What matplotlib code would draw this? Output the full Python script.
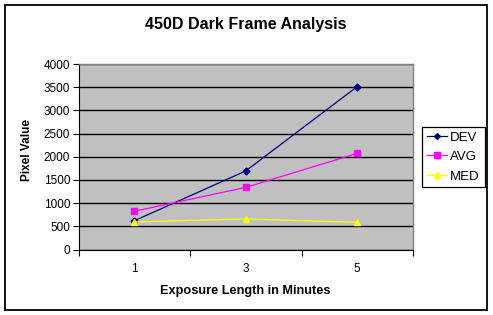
import numpy as np
import matplotlib.pyplot as plt
from matplotlib.patches import Rectangle

plt.rcParams['font.family'] = ['Liberation Sans', 'DejaVu Sans']

# exposure categories and pixel values
minutes = ["1", "3", "5"]
dev = [620, 1695, 3515]
avg = [825, 1340, 2075]
med = [595, 660, 585]
yticks = [0, 500, 1000, 1500, 2000, 2500, 3000, 3500, 4000]

W, H = 493, 315
fig = plt.figure(figsize=(W/100, H/100), dpi=100)
fig.patch.set_facecolor("white")
# outer chart border
fig.patches.append(Rectangle((4.5/W, 1-310/H), 482.5/W, 305.5/H, transform=fig.transFigure,
                             fill=False, edgecolor="black", linewidth=1.3))

ax = fig.add_axes([78.5/W, 1-249.5/H, 334.5/W, 185.4/H])
ax.set_facecolor("#C0C0C0")

x = np.arange(len(minutes))
ax.plot(x, dev, color="#000080", marker="D", markersize=3.5, linewidth=0.9, label="DEV", zorder=3)
ax.plot(x, avg, color="#FF00FF", marker="s", markersize=4.5, linewidth=0.9, label="AVG", zorder=3)
ax.plot(x, med, color="#FFFF00", marker="^", markersize=5, linewidth=0.9, label="MED", zorder=3)

ax.set_ylim(0, 4000)
ax.set_yticks(yticks)
ax.set_yticklabels([str(v) for v in yticks], fontsize=8.5)
ax.yaxis.grid(True, color="black", linewidth=1)
ax.set_axisbelow(True)

ax.set_xlim(-0.5, len(minutes) - 0.5)
ax.set_xticks(np.arange(-0.5, len(minutes), 1.0))
ax.set_xticklabels([])
ax.set_xticks(x, minor=True)
ax.set_xticklabels(minutes, minor=True, fontsize=8.5)
ax.tick_params(axis="x", which="minor", length=0, pad=10)
ax.tick_params(axis="x", which="major", length=4, width=0.8, color="black")
ax.tick_params(axis="y", length=4, width=0.8, pad=2)

for s in ["top", "right"]:
    ax.spines[s].set_color("#808080")
    ax.spines[s].set_linewidth(1)
for s in ["left", "bottom"]:
    ax.spines[s].set_color("black")
    ax.spines[s].set_linewidth(0.8)

fig.text(246/W, 1-25/H, "450D Dark Frame Analysis", ha="center", va="center",
         fontsize=11.5, fontweight="bold")
fig.text(27.5/W, 1-150/H, "Pixel Value", ha="center", va="center", rotation=90,
         fontsize=8.5, fontweight="bold")
fig.text(245/W, 1-291/H, "Exposure Length in Minutes", ha="center", va="center",
         fontsize=9.2, fontweight="bold")

leg = fig.legend(loc="upper left", bbox_to_anchor=(422/W, 1-126.7/H), fontsize=9.5,
                 frameon=True, fancybox=False, edgecolor="black", framealpha=1,
                 handlelength=1.55, handletextpad=0.25, labelspacing=0.55,
                 borderpad=0.35, borderaxespad=0, markerscale=0.85)
leg.get_frame().set_linewidth(0.9)

fig.savefig("out.png", dpi=100)
